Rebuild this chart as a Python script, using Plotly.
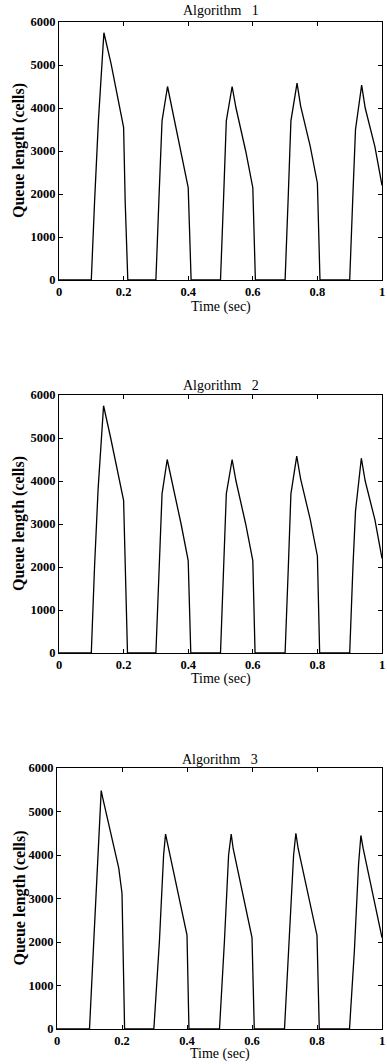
import plotly.graph_objects as go

# ---- data ----
t1 = [0, 0.1, 0.11, 0.122, 0.139, 0.161, 0.2, 0.205, 0.213,
      0.3, 0.31, 0.319, 0.336, 0.35, 0.378, 0.4, 0.409,
      0.5, 0.51, 0.518, 0.536, 0.548, 0.578, 0.6, 0.608,
      0.7, 0.71, 0.718, 0.737, 0.748, 0.778, 0.8, 0.808,
      0.9, 0.91, 0.918, 0.937, 0.948, 0.978, 1.0]
q1 = [0, 0, 1800, 3700, 5750, 5040, 3550, 1800, 0,
      0, 2000, 3700, 4500, 4000, 3000, 2150, 0,
      0, 2000, 3700, 4500, 4000, 3000, 2150, 0,
      0, 2000, 3700, 4580, 4050, 3100, 2250, 0,
      0, 2000, 3500, 4530, 4000, 3100, 2200]

t2 = [0, 0.1, 0.11, 0.121, 0.138, 0.16, 0.2, 0.205, 0.212,
      0.3, 0.31, 0.319, 0.335, 0.35, 0.378, 0.4, 0.408,
      0.5, 0.51, 0.518, 0.536, 0.548, 0.578, 0.6, 0.607,
      0.7, 0.71, 0.718, 0.736, 0.748, 0.778, 0.8, 0.807,
      0.9, 0.91, 0.918, 0.936, 0.948, 0.978, 1.0]
q2 = [0, 0, 2000, 3800, 5750, 5000, 3550, 1800, 0,
      0, 2000, 3700, 4500, 4000, 3000, 2150, 0,
      0, 2000, 3700, 4500, 4000, 3000, 2150, 0,
      0, 2000, 3700, 4580, 4050, 3100, 2250, 0,
      0, 2000, 3300, 4530, 4000, 3100, 2200]

t3 = [0, 0.1, 0.113, 0.125, 0.136, 0.141, 0.19, 0.2, 0.208,
      0.298, 0.315, 0.328, 0.334, 0.342, 0.4, 0.406,
      0.5, 0.515, 0.528, 0.536, 0.542, 0.6, 0.607,
      0.7, 0.715, 0.728, 0.735, 0.742, 0.8, 0.807,
      0.9, 0.915, 0.928, 0.935, 0.942, 0.995, 1.0]
q3 = [0, 0, 2000, 4000, 5480, 5300, 3700, 3120, 0,
      0, 2000, 4000, 4480, 4200, 2160, 0,
      0, 2000, 4000, 4480, 4150, 2100, 0,
      0, 2000, 4000, 4500, 4150, 2150, 0,
      0, 1800, 3800, 4450, 4150, 2300, 2100]

titles = ["Algorithm   1", "Algorithm   2", "Algorithm   3"]
x_ticks = [0, 0.2, 0.4, 0.6, 0.8, 1]
x_tick_text = ["0", "0.2", "0.4", "0.6", "0.8", "1"]
y_ticks = [0, 1000, 2000, 3000, 4000, 5000, 6000]
x_label = "Time (sec)"
y_label = "Queue length (cells)"

# ---- layout geometry (pixels) ----
W, H = 387, 1064
panels = [  # (x0, x1, ytop, ybottom, title_y, xlabel_y)
    (59, 382, 22, 280, 11, 307),
    (59, 382, 395, 653, 386, 679),
    (57, 382, 768, 1029, 759, 1054),
]

FONT = "Liberation Serif, Times New Roman, serif"
fig = go.Figure()
series = [(t1, q1), (t2, q2), (t3, q3)]
annotations = []
layout = {}
for i, ((tx, qy), (x0, x1, yt, yb, ty, xly)) in enumerate(zip(series, panels)):
    k = "" if i == 0 else str(i + 1)
    fig.add_trace(go.Scatter(x=tx, y=qy, mode="lines",
                             line=dict(color="black", width=1.3),
                             xaxis="x" + k, yaxis="y" + k, showlegend=False,
                             hoverinfo="skip"))
    common = dict(showline=True, linecolor="black", linewidth=1.2, mirror="ticks",
                  ticks="inside", ticklen=4, tickcolor="black", tickwidth=1,
                  showgrid=False, zeroline=False, automargin=False,
                  ticklabeloverflow="allow",
                  tickfont=dict(family=FONT, size=12.5, color="black"))
    layout["xaxis" + k] = dict(common, domain=[x0 / W, x1 / W], range=[0, 1],
                               tickvals=x_ticks,
                               ticktext=["<b>" + s + "</b>" for s in x_tick_text],
                               anchor="y" + k)
    layout["yaxis" + k] = dict(common, domain=[1 - yb / H, 1 - yt / H],
                               range=[0, 6000], tickvals=y_ticks,
                               ticktext=["<b>%d</b>" % v for v in y_ticks],
                               anchor="x" + k)
    cx = (x0 + x1) / 2 / W
    annotations.append(dict(text=titles[i], x=cx, y=1 - ty / H, xref="paper", yref="paper",
                            showarrow=False, xanchor="center", yanchor="middle",
                            font=dict(family=FONT, size=14, color="black")))
    annotations.append(dict(text=x_label, x=cx, y=1 - xly / H, xref="paper", yref="paper",
                            showarrow=False, xanchor="center", yanchor="middle",
                            font=dict(family=FONT, size=14, color="black")))
    annotations.append(dict(text="<b>" + y_label + "</b>", x=19 / W, y=1 - (yt + yb) / 2 / H,
                            xref="paper", yref="paper", textangle=-90,
                            showarrow=False, xanchor="center", yanchor="middle",
                            font=dict(family=FONT, size=16, color="black")))

fig.update_layout(width=W, height=H, margin=dict(l=0, r=0, t=0, b=0, autoexpand=False),
                  paper_bgcolor="white", plot_bgcolor="white",
                  annotations=annotations, **layout)
fig.write_html("out.html", config={"displayModeBar": False},
               post_script="document.body.style.margin='0';"
                           "document.body.style.padding='0';"
                           "document.body.style.overflow='hidden';")
